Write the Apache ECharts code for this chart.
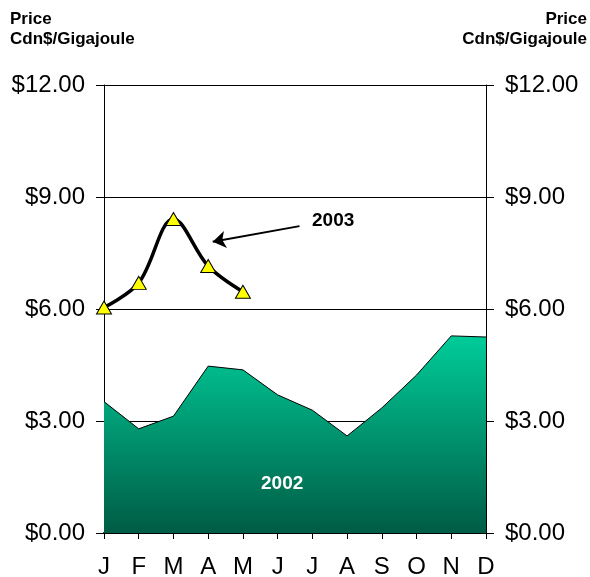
<!DOCTYPE html>
<html>
<head>
<meta charset="utf-8">
<script src="https://cdn.jsdelivr.net/npm/echarts@6/dist/echarts.min.js"></script>
<style>html,body{margin:0;padding:0;background:#fff;overflow:hidden;}#c{width:590px;height:577px;}</style>
</head>
<body>
<div id="c"></div>
<script>
var months = ['J','F','M','A','M','J','J','A','S','O','N','D'];
var price2002 = [3.52, 2.79, 3.13, 4.47, 4.37, 3.70, 3.29, 2.60, 3.35, 4.23, 5.28, 5.25];
var price2003 = [6.04, 6.70, 8.41, 7.15, 6.46];
var yTicks = [0, 3, 6, 9, 12];
var arrowTail = [5.63, 8.22];
var arrowHead = [3.13, 7.80];
var titleLine1 = 'Price';
var titleLine2 = 'Cdn$/Gigajoule';

var chart = echarts.init(document.getElementById('c'), null, {renderer:'canvas'});
var fmt = function(v){ return '$' + v.toFixed(2); };
var font = 'Arial, "Liberation Sans", sans-serif';
var tStyle = function(t, fill){ return {text: t, fontFamily: font, fontWeight: 'bold', fontSize: 17, fill: fill || '#000'}; };
chart.setOption({
  animation: false,
  backgroundColor: '#fff',
  grid: {left: 104, right: 104, top: 85, bottom: 44, containLabel: false, outerBoundsMode: 'none'},
  xAxis: [{
    type: 'category', data: months, boundaryGap: false,
    axisLine: {lineStyle: {color: '#000', width: 2}},
    axisTick: {show: true, length: 6, lineStyle: {color: '#000', width: 1}},
    axisLabel: {fontFamily: font, fontSize: 24, color: '#000', margin: 22},
    splitLine: {show: false}
  }, {
    type: 'value', min: 0, max: 11, show: false
  }],
  yAxis: [{
    type: 'value', min: yTicks[0], max: yTicks[yTicks.length-1], interval: 3, position: 'left',
    axisLine: {show: true, lineStyle: {color: '#000', width: 1}},
    axisTick: {show: true, length: 8, lineStyle: {color: '#000'}},
    axisLabel: {fontFamily: font, fontSize: 24, color: '#000', margin: 19, formatter: fmt},
    splitLine: {show: true, lineStyle: {color: '#000', width: 1}}
  }, {
    type: 'value', min: yTicks[0], max: yTicks[yTicks.length-1], interval: 3, position: 'right',
    axisLine: {show: true, lineStyle: {color: '#000', width: 1}},
    axisTick: {show: true, length: 8, lineStyle: {color: '#000'}},
    axisLabel: {fontFamily: font, fontSize: 24, color: '#000', margin: 19, formatter: fmt},
    splitLine: {show: false}
  }],
  series: [{
    name: '2002', type: 'line', data: price2002, symbol: 'none',
    lineStyle: {color: '#000', width: 1},
    areaStyle: {opacity: 1, color: new echarts.graphic.LinearGradient(0, 0, 0, 1, [
      {offset: 0, color: '#00CC99'}, {offset: 1, color: '#005C45'}])},
    z: 2
  }, {
    name: '2003', type: 'line', data: price2003, smooth: 0.35,
    symbol: 'triangle', symbolSize: [15, 13], showAllSymbol: true,
    itemStyle: {color: '#FFFF00', borderColor: '#000', borderWidth: 1},
    lineStyle: {color: '#000', width: 3.5},
    z: 4
  }, {
    name: 'arrow', type: 'line', xAxisIndex: 1, data: [arrowTail, arrowHead],
    symbol: 'none', lineStyle: {opacity: 0}, silent: true,
    markLine: {
      silent: true, symbol: ['none', 'arrow'], symbolSize: 13,
      label: {show: false},
      lineStyle: {color: '#000', width: 2, type: 'solid'},
      data: [[{coord: arrowTail}, {coord: arrowHead}]]
    },
    z: 4
  }],
  graphic: [
    {type: 'text', left: 10, top: 11, z: 10, style: tStyle(titleLine1)},
    {type: 'text', left: 10, top: 31, z: 10, style: tStyle(titleLine2)},
    {type: 'text', right: 3, top: 11, z: 10, style: tStyle(titleLine1)},
    {type: 'text', right: 3, top: 31, z: 10, style: tStyle(titleLine2)},
    {type: 'text', left: 312, top: 211, z: 10,
     style: {text: '2003', fontFamily: font, fontWeight: 'bold', fontSize: 19, fill: '#000'}},
    {type: 'text', left: 261, top: 474, z: 10,
     style: {text: '2002', fontFamily: font, fontWeight: 'bold', fontSize: 19, fill: '#fff'}}
  ]
});
</script>
</body>
</html>
